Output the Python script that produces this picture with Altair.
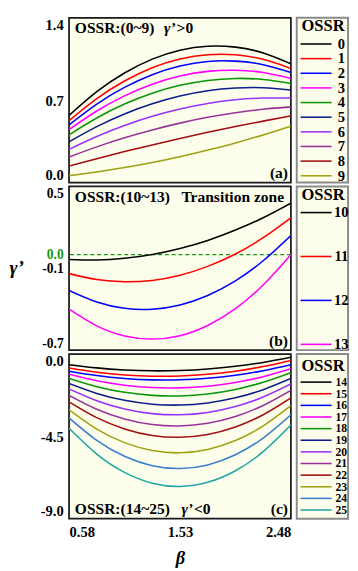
import altair as alt
import pandas as pd

FONT = "Liberation Serif"
BG = "#FDFDEC"

beta = [0.58, 0.8175, 1.055, 1.2925, 1.53, 1.7675, 2.005, 2.2425, 2.48]

# panel (a)  OSSR 0..9
g0 = [0.570, 0.772, 0.931, 1.049, 1.125, 1.159, 1.151, 1.102, 1.010]
g1 = [0.525, 0.713, 0.863, 0.976, 1.050, 1.087, 1.086, 1.047, 0.970]
g2 = [0.490, 0.667, 0.809, 0.917, 0.990, 1.029, 1.032, 1.002, 0.936]
g3 = [0.450, 0.608, 0.737, 0.836, 0.905, 0.945, 0.954, 0.935, 0.885]
g4 = [0.406, 0.549, 0.667, 0.759, 0.826, 0.868, 0.885, 0.876, 0.842]
g5 = [0.346, 0.475, 0.583, 0.669, 0.735, 0.780, 0.803, 0.806, 0.787]
g6 = [0.283, 0.392, 0.485, 0.563, 0.625, 0.672, 0.703, 0.718, 0.718]
g7 = [0.217, 0.303, 0.380, 0.447, 0.505, 0.554, 0.593, 0.623, 0.643]
g8 = [0.140, 0.203, 0.263, 0.320, 0.375, 0.427, 0.476, 0.522, 0.566]
g9 = [0.058, 0.090, 0.127, 0.171, 0.220, 0.276, 0.337, 0.405, 0.478]
# panel (b)  OSSR 10..13
g10 = [-0.035, -0.039, -0.027, 0.001, 0.045, 0.104, 0.180, 0.270, 0.377]
g11 = [-0.139, -0.183, -0.199, -0.189, -0.151, -0.086, 0.005, 0.124, 0.270]
g12 = [-0.262, -0.347, -0.393, -0.400, -0.369, -0.299, -0.192, -0.045, 0.140]
g13 = [-0.400, -0.522, -0.596, -0.619, -0.594, -0.519, -0.396, -0.222, 0.000]
# panel (c)  OSSR 14..25
g14 = [-0.58, -0.758, -0.870, -0.918, -0.900, -0.818, -0.670, -0.458, -0.18]
g15 = [-0.76, -0.991, -1.141, -1.211, -1.200, -1.108, -0.936, -0.683, -0.35]
g16 = [-0.94, -1.179, -1.338, -1.414, -1.410, -1.324, -1.158, -0.909, -0.58]
g17 = [-1.11, -1.462, -1.703, -1.832, -1.850, -1.757, -1.553, -1.237, -0.81]
g18 = [-1.34, -1.786, -2.093, -2.261, -2.290, -2.181, -1.933, -1.546, -1.02]
g19 = [-1.61, -2.152, -2.529, -2.742, -2.790, -2.674, -2.394, -1.949, -1.34]
g20 = [-1.91, -2.552, -3.001, -3.257, -3.320, -3.190, -2.866, -2.350, -1.64]
g21 = [-2.26, -3.016, -3.546, -3.851, -3.930, -3.783, -3.411, -2.813, -1.99]
g22 = [-2.61, -3.478, -4.091, -4.449, -4.550, -4.396, -3.986, -3.321, -2.40]
g23 = [-3.05, -4.100, -4.841, -5.275, -5.400, -5.217, -4.726, -3.927, -2.82]
g24 = [-3.49, -4.718, -5.589, -6.103, -6.260, -6.060, -5.504, -4.590, -3.32]
g25 = [-4.06, -5.468, -6.468, -7.058, -7.240, -7.013, -6.378, -5.333, -3.88]

labels_a = ["0", "1", "2", "3", "4", "5", "6", "7", "8", "9"]
labels_b = ["10", "11", "12", "13"]
labels_c = ["14", "15", "16", "17", "18", "19", "20", "21", "22", "23", "24", "25"]

colors_a = ["#000000", "#FF0000", "#0000FF", "#FF00FF", "#0A960A", "#0A1E8C",
            "#9933FF", "#993399", "#A01010", "#A0A010"]
colors_b = ["#000000", "#FF0000", "#0000FF", "#FF00FF"]
colors_c = colors_a + ["#3C7FD0", "#22A6A6"]

yticks_a = [0.0, 0.7, 1.4]
yticks_b = [0.5, 0.0, -0.1, -0.7]
yticks_c = [0.0, -4.5, -9.0]
xticks = [0.58, 1.53, 2.48]

text_a = ["OSSR:(0~9)", "γ’", ">0", "(a)"]
text_b = ["OSSR:(10~13)", "Transition zone", "(b)"]
text_c = ["OSSR:(14~25)", "γ’", "<0", "(c)"]
legend_title = "OSSR"
y_title = "γ’"
x_title = "β"

W = 229
LABEL_EXPR = "datum.value < 0 ? '-' + format(-datum.value, '.1f') : format(datum.value, '.1f')"


def long_df(labels, series, colors):
    rows = []
    for lab, vals, col in zip(labels, series, colors):
        for b, v in zip(beta, vals):
            rows.append({"beta": b, "g": v, "ossr": lab, "col": col})
    return pd.DataFrame(rows)


def txt(s, x, y, align="left", italic=False, size=16):
    return alt.Chart(pd.DataFrame({"t": [s]})).mark_text(
        font=FONT, fontSize=size, fontWeight="bold",
        fontStyle="italic" if italic else "normal",
        align=align, baseline="alphabetic", color="black",
    ).encode(x=alt.value(x), y=alt.value(y), text="t:N")


def panel(labels, series, colors, ydom, yticks, h, xaxis, yaxis_extra, extra_layers):
    df = long_df(labels, series, colors)
    ax = dict(values=yticks, labelExpr=LABEL_EXPR, labelFlush=True, ticks=False,
              domain=False, grid=False, labelFont=FONT, labelFontSize=15,
              labelFontWeight="bold", labelColor="black", labelPadding=6,
              labelOverlap=False)
    ax.update(yaxis_extra)
    yaxis = alt.Axis(**ax)
    lines = alt.Chart(df).mark_line(strokeWidth=1.6, interpolate="natural", clip=True).encode(
        x=alt.X("beta:Q", scale=alt.Scale(domain=[0.58, 2.48], nice=False, zero=False), axis=xaxis),
        y=alt.Y("g:Q", scale=alt.Scale(domain=ydom, nice=False, zero=False), axis=yaxis),
        color=alt.Color("col:N", scale=None),
        detail="ossr:N",
    )
    return alt.layer(*extra_layers, lines).properties(
        width=W, height=h, view=alt.ViewBackground(fill=BG, stroke="#1a1a1a", strokeWidth=1.8))


def legend(labels, colors, y0, y1, title_y, h, fsize):
    df = pd.DataFrame({"ossr": labels, "col": colors})
    yenc = alt.Y("ossr:N", scale=alt.Scale(type="point", domain=labels, range=[y0, y1], padding=0),
                 axis=None)
    base = alt.Chart(df)
    lines = base.mark_rule(strokeWidth=1.6).encode(
        x=alt.value(4), x2=alt.value(36), y=yenc, color=alt.Color("col:N", scale=None))
    labs = base.mark_text(font=FONT, fontSize=fsize, fontWeight="bold", align="center",
                          baseline="middle", color="black").encode(
        x=alt.value(46), y=yenc, text="ossr:N")
    ttl = txt(legend_title, 5, title_y, size=17)
    return alt.layer(lines, labs, ttl).properties(
        width=53, height=h, view=alt.ViewBackground(fill=BG, stroke="#8a8a8a", strokeWidth=2))


# zero reference line for panel (b)
zero_df = pd.DataFrame({"z": [0.0]})
zero_line = alt.Chart(zero_df).mark_rule(color="#119911", strokeDash=[4, 3], strokeWidth=1.5).encode(
    y=alt.Y("z:Q"))

pa = panel(labels_a, [g0, g1, g2, g3, g4, g5, g6, g7, g8, g9], colors_a, [0.0, 1.4], yticks_a, 170,
           None, {"title": None},
           [txt(text_a[0], 6, 16), txt(text_a[1], 98, 16, italic=True), txt(text_a[2], 111, 16),
            txt(text_a[3], 226, 165, align="right")])

pb = panel(labels_b, [g10, g11, g12, g13], colors_b, [-0.7, 0.5], yticks_b, 169,
           None,
           {"title": y_title, "titleAngle": 0, "titleX": -47, "titleY": 84, "titleAlign": "right",
            "titleBaseline": "middle", "titleFont": FONT, "titleFontSize": 20,
            "titleFontStyle": "italic", "titleFontWeight": "bold", "titleColor": "black",
            "labelFontSize": 14,
            "labelColor": {"condition": {"test": "datum.value == 0", "value": "#119911"},
                           "value": "black"}},
           [zero_line, txt(text_b[0], 6, 16), txt(text_b[1], 116, 16),
            txt(text_b[2], 226, 165, align="right")])

xaxis_c = alt.Axis(values=xticks, format=".2f", labelFlush=True, ticks=False, domain=False,
                   grid=False, labelFont=FONT, labelFontSize=15, labelFontWeight="bold",
                   labelColor="black", labelPadding=6, labelOverlap=False,
                   title=x_title, titleFont=FONT, titleFontSize=19, titleFontStyle="italic",
                   titleFontWeight="bold", titleColor="black", titlePadding=10)

pc = panel(labels_c, [g14, g15, g16, g17, g18, g19, g20, g21, g22, g23, g24, g25], colors_c,
           [-9.0, 0.0], yticks_c, 170, xaxis_c, {"title": None},
           [txt(text_c[0], 6, 165), txt(text_c[1], 116, 165, italic=True), txt(text_c[2], 129, 165),
            txt(text_c[3], 226, 165, align="right")])

la = legend(labels_a, colors_a, 27, 163, 14, 170, 15)
lb = legend(labels_b, colors_b, 27, 163, 14, 169, 15)
lc = legend(labels_c, colors_c, 29, 161, 18, 170, 12)

chart = alt.concat(pa, la, pb, lb, pc, lc, columns=2, spacing={"row": 4, "column": 6},
                   bounds="flush").properties(
    padding=0, align="each", background="white"
).resolve_scale(x="independent", y="independent", color="independent")

chart.save("out.html", embed_options={"renderer": "svg", "actions": False})
